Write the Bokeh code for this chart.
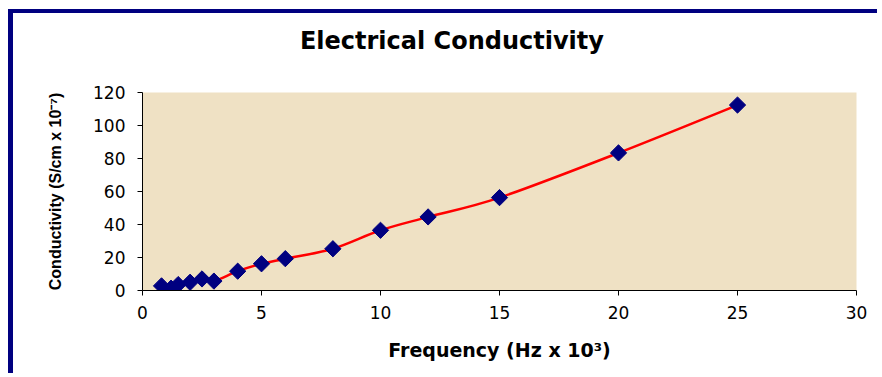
from bokeh.plotting import figure
from bokeh.models import Range1d, FixedTicker, LinearAxis
from bokeh.embed import file_html
from bokeh.resources import INLINE
import math

# Conductivity measurements vs frequency
freq_khz = [0.8, 1.2, 1.5, 2, 2.5, 3, 4, 5, 6, 8, 10, 12, 15, 20, 25]
conductivity = [2.8, 1.4, 3.6, 5.0, 7.0, 5.7, 11.7, 16.2, 19.3, 25.3, 36.5, 44.6, 56.3, 83.4, 112.4]

x_ticks = [0, 5, 10, 15, 20, 25, 30]
y_ticks = [0, 20, 40, 60, 80, 100, 120]

title_text = "Electrical Conductivity"
x_title = "Frequency (Hz x 10\u00b3)"
y_title = "Conductivity (S/cm x 10\u207b\u2077)"

NAVY = "#000080"
W, H = 869, 364

p = figure(
    width=W, height=H,
    output_backend="svg", toolbar_location=None,
    x_range=Range1d(0, 30), y_range=Range1d(0, 120),
    min_border_left=129, min_border_right=26,
    min_border_top=79, min_border_bottom=87,
    background_fill_color="#EFE1C4",
    border_fill_color="white",
    outline_line_color=None,
    styles={
        "margin-left": "8px", "margin-top": "9px",
        "border-left": "5px solid " + NAVY,
        "border-top": "4px solid " + NAVY,
    },
)
p.grid.visible = False
p.title.visible = False

xax = p.below[0]
yax = p.left[0]

# Chart heading drawn as the single label of a bare top axis,
# so it can sit left of the frame centre
title_pos = 13
heading = LinearAxis(
    ticker=FixedTicker(ticks=[title_pos]),
    major_label_overrides={title_pos: title_text},
    axis_line_color=None,
    major_tick_line_color=None,
    minor_tick_line_color=None,
    major_tick_in=0, major_tick_out=0,
    major_label_standoff=38,
    major_label_text_font="DejaVu Sans",
    major_label_text_font_style="bold",
    major_label_text_font_size="24px",
    major_label_text_color="black",
)
p.add_layout(heading, "above")

for ax in (xax, yax):
    ax.axis_line_color = "black"
    ax.major_tick_line_color = "black"
    ax.minor_tick_line_color = None
    ax.major_tick_in = 0
    ax.major_tick_out = 5
    ax.major_label_text_font = "DejaVu Sans"
    ax.major_label_text_font_size = "17px"
    ax.major_label_text_color = "black"
    ax.axis_label_text_color = "black"
    ax.axis_label_text_font_style = "bold"

xax.ticker = FixedTicker(ticks=x_ticks)
yax.ticker = FixedTicker(ticks=y_ticks)
xax.major_label_standoff = 10
yax.major_label_standoff = 12

xax.axis_label = x_title
xax.axis_label_text_font = "DejaVu Sans"
xax.axis_label_text_font_size = "19px"
xax.axis_label_standoff = 17

yax.axis_label = y_title
yax.axis_label_text_font = "Liberation Sans"
yax.axis_label_text_font_size = "16px"
yax.axis_label_standoff = 26

# Smoothed connecting curve (cubic Bezier segments through the points)
n = len(freq_khz)
pts = list(zip(freq_khz, conductivity))
x0s, y0s, x1s, y1s, cx0s, cy0s, cx1s, cy1s = ([] for _ in range(8))
for i in range(n - 1):
    pa = pts[i - 1] if i > 0 else pts[i]
    pb = pts[i]
    pc = pts[i + 1]
    pd = pts[i + 2] if i + 2 < n else pts[i + 1]
    x0s.append(pb[0]); y0s.append(pb[1])
    x1s.append(pc[0]); y1s.append(pc[1])
    cx0s.append(pb[0] + (pc[0] - pa[0]) / 6); cy0s.append(pb[1] + (pc[1] - pa[1]) / 6)
    cx1s.append(pc[0] - (pd[0] - pb[0]) / 6); cy1s.append(pc[1] - (pd[1] - pb[1]) / 6)

p.bezier(x0=x0s, y0=y0s, x1=x1s, y1=y1s, cx0=cx0s, cy0=cy0s, cx1=cx1s, cy1=cy1s,
         line_color="#FF0000", line_width=2.5)

p.scatter(freq_khz, conductivity, marker="square", angle=math.pi / 4, size=11.5,
          fill_color=NAVY, line_color=NAVY)

open("out.html", "w").write(file_html(p, INLINE))
